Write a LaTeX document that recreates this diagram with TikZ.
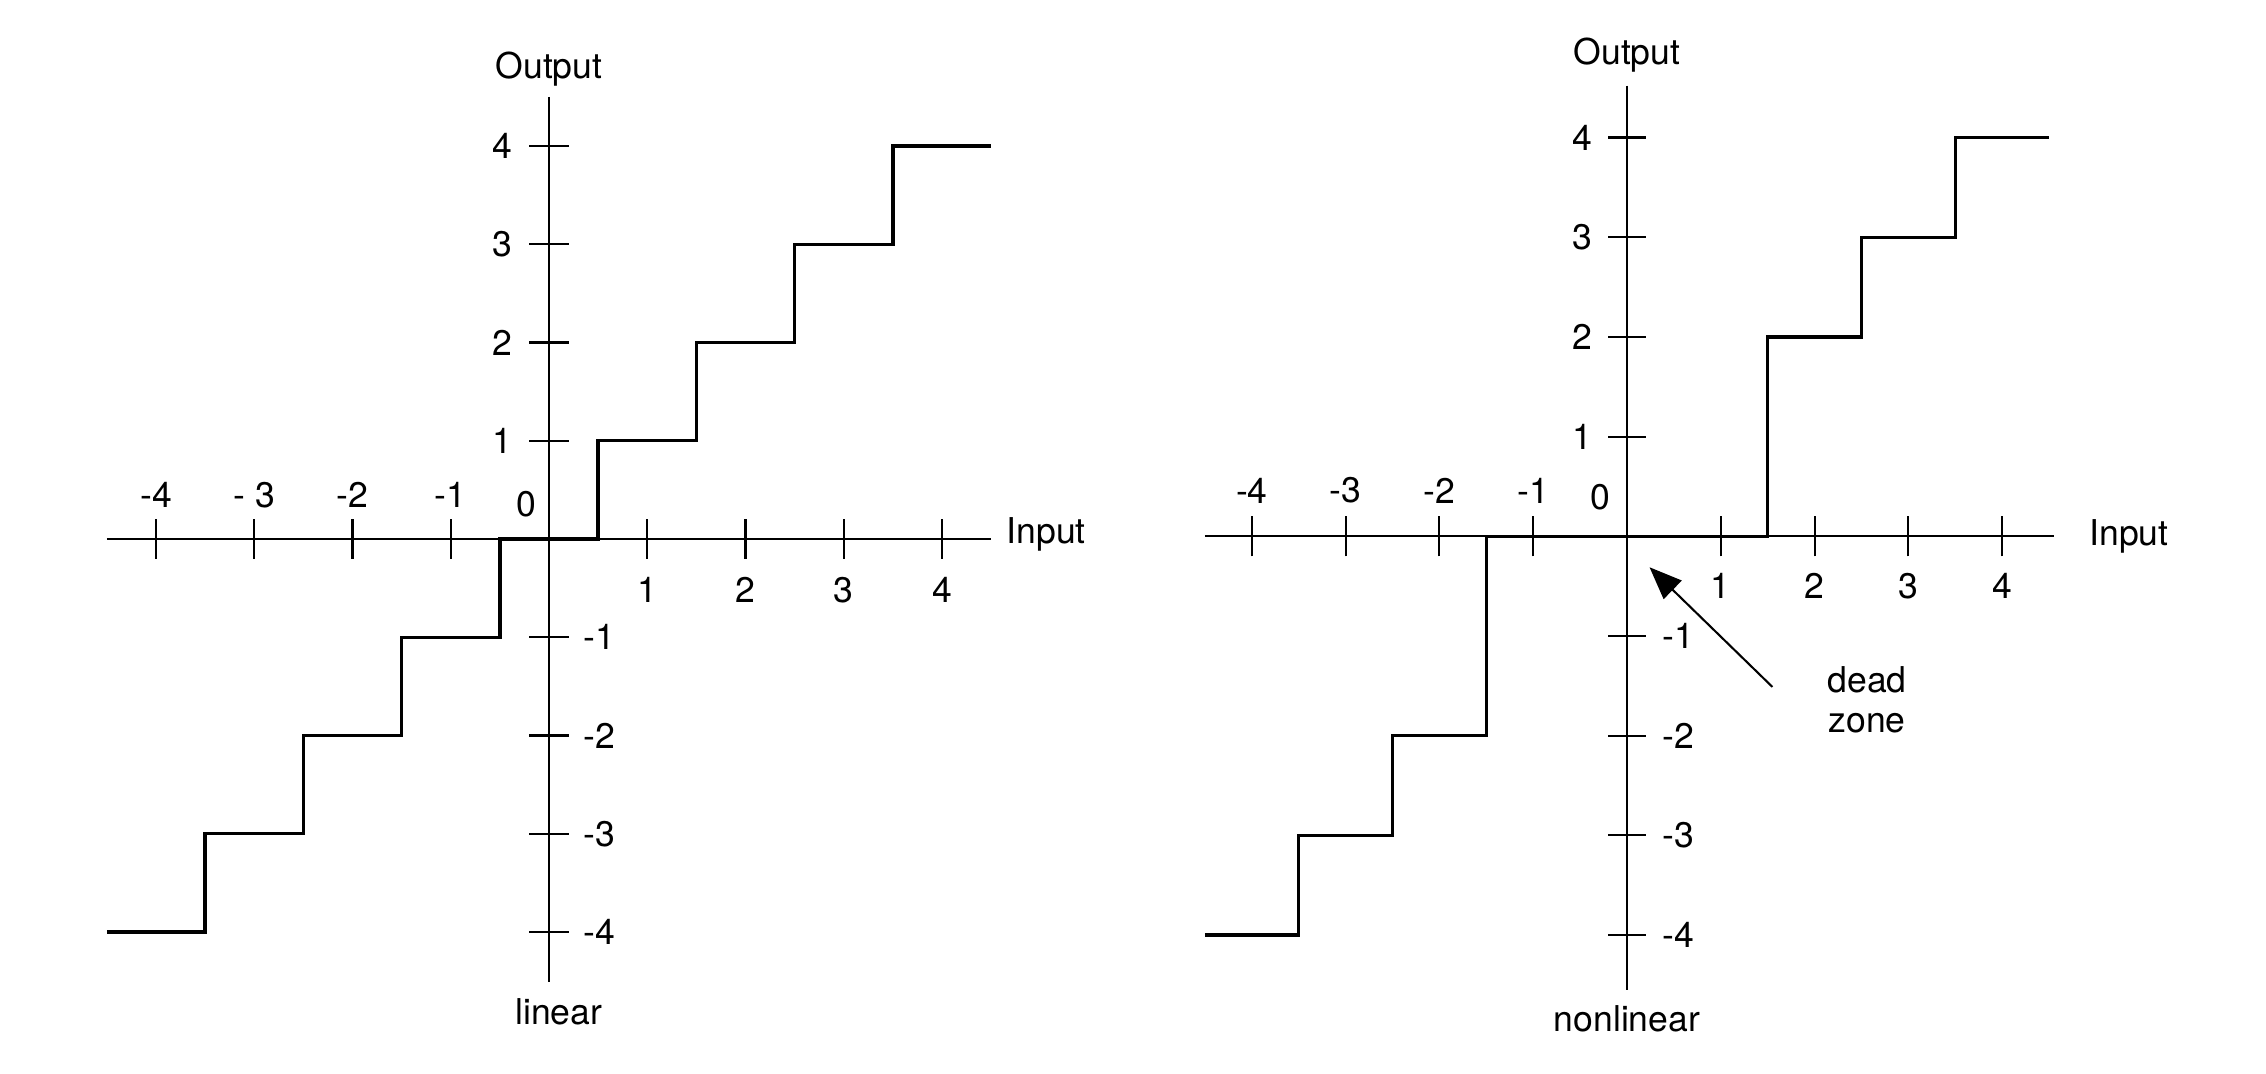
\documentclass[tikz,border=0pt]{standalone}
\usepackage{fontspec}
\setmainfont{TeX Gyre Heros}
\usetikzlibrary{arrows.meta}

\begin{document}
\begin{tikzpicture}[
    axis/.style={line width=0.6pt},
    stair/.style={line width=0.95pt},
    lbl/.style={font=\fontsize{10.3}{11.4}\selectfont, inner sep=0pt, align=center}]
  \useasboundingbox (-5.588,-5.445) rectangle (17.476,5.486);
  % linear
  \begin{scope}
    \draw[axis] (-4.5,0) -- (4.5,0);
    \draw[axis] (0,4.5) -- (0,-4.51);
    \foreach \i/\t in {4/-4, 3/- 3, 2/-2, 1/-1} {
      \draw[axis]   (-\i,-0.2) -- (-\i,0.2);
      \node[lbl]    (lxn\i) at (-\i,0.45) {\t};
      \draw[axis]   (\i,-0.2) -- (\i,0.2);
      \node[lbl]    (lxp\i) at (\i,-0.52) {\i};
      \draw[axis]   (-0.2,\i) -- (0.2,\i);
      \node[lbl]    (lyp\i) at (-0.47,\i) {\i};
      \draw[axis]   (-0.2,-\i) -- (0.2,-\i);
      \node[lbl]    (lyn\i) at (0.51,-\i) {-\i};
    }
    \node[lbl]      (lo) at (-0.235,0.35) {0};
    \node[lbl]      (lout) at (0,4.78) {Output};
    \node[lbl]      (lin) at (5.06,0.05) {Input};
    \node[lbl]      (lname) at (0.1,-4.81) {linear};
    \draw[stair] (-4.5,-4) -| (-3.5,-3) -| (-2.5,-2) -| (-1.5,-1) -| (-0.5,0)
                 -| (0.5,1) -| (1.5,2) -| (2.5,3) -| (3.5,4) -- (4.5,4);
  \end{scope}
  % nonlinear
  \begin{scope}[shift={(10.972,0.027)}, xscale=0.9547, yscale=1.0148]
    \draw[axis] (-4.5,0) -- (4.55,0);
    \draw[axis] (0,4.52) -- (0,-4.55);
    \foreach \i in {1,...,4} {
      \draw[axis]   (-\i,-0.2) -- (-\i,0.2);
      \node[lbl]    (rxn\i) at (-\i,0.46) {-\i};
      \draw[axis]   (\i,-0.2) -- (\i,0.2);
      \node[lbl]    (rxp\i) at (\i,-0.5) {\i};
      \draw[axis]   (-0.2,\i) -- (0.2,\i);
      \node[lbl]    (ryp\i) at (-0.48,\i) {\i};
      \draw[axis]   (-0.2,-\i) -- (0.2,-\i);
      \node[lbl]    (ryn\i) at (0.55,-\i) {-\i};
    }
    \node[lbl]      (ro) at (-0.28,0.39) {0};
    \node[lbl]      (rout) at (0,4.83) {Output};
    \node[lbl]      (rin) at (5.35,0) {Input};
    \node[lbl]      (rname) at (0,-4.84) {nonlinear};
    \draw[stair] (-4.5,-4) -| (-3.5,-3) -| (-2.5,-2) -| (-1.5,0)
                 -| (1.5,2) -| (2.5,3) -| (3.5,4) -- (4.5,4);
    \node[lbl]      (dz) at (2.56,-1.64) {dead\\zone};
    \coordinate     (dzt) at (1.55,-1.51);
    \coordinate     (dzh) at (0.24,-0.31);
    \draw[axis, -{Triangle[length=3.3mm,width=2.6mm]}] (dzt) -- (dzh);
  \end{scope}
\end{tikzpicture}
\end{document}
